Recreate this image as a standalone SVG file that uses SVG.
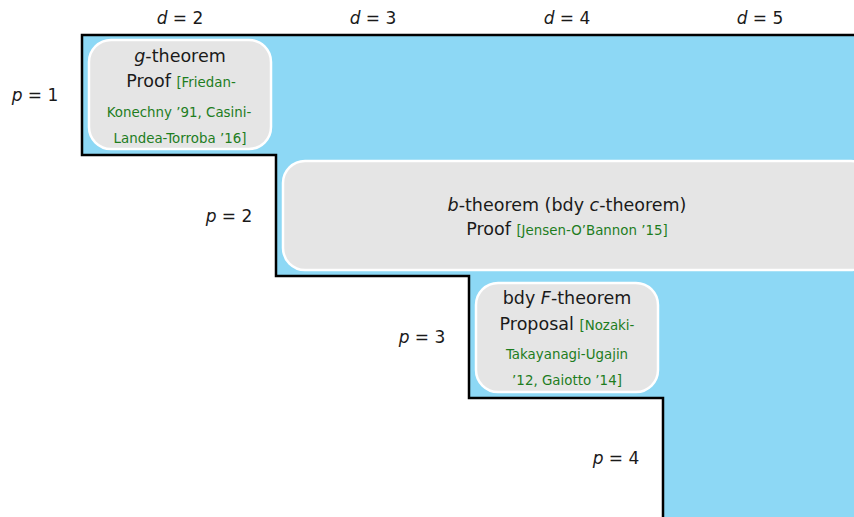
<svg xmlns="http://www.w3.org/2000/svg" width="854" height="517" viewBox="0 0 854 517">
<style>
text{font-family:"DejaVu Sans","Liberation Sans",sans-serif;fill:#1a1a1a}
.lbl{font-size:17px;text-anchor:middle}
.t{font-size:17.5px;text-anchor:middle}
.g{font-size:13.4px;fill:#1e7d1e}
.gc{font-size:13.4px;fill:#1e7d1e;text-anchor:middle}
.box{fill:#e5e5e5;stroke:#ffffff;stroke-width:2.5}
</style>
<rect x="0" y="0" width="854" height="517" fill="#ffffff"/>
<g id="region">
<path d="M82,35 H856 V519 H663 V398 H469 V276 H276 V155 H82 Z" fill="#8dd8f5"/>
<path d="M856,35 H82 V155 H276 V276 H469 V398 H663 V519" fill="none" stroke="#000" stroke-width="2.5"/>
</g>
<g id="headers">
<text class="lbl" x="180" y="24"><tspan font-style="italic">d</tspan> = 2</text>
<text class="lbl" x="373" y="24"><tspan font-style="italic">d</tspan> = 3</text>
<text class="lbl" x="567" y="24"><tspan font-style="italic">d</tspan> = 4</text>
<text class="lbl" x="760" y="24"><tspan font-style="italic">d</tspan> = 5</text>
<text class="lbl" x="35" y="101"><tspan font-style="italic">p</tspan> = 1</text>
<text class="lbl" x="229" y="222"><tspan font-style="italic">p</tspan> = 2</text>
<text class="lbl" x="422" y="343"><tspan font-style="italic">p</tspan> = 3</text>
<text class="lbl" x="616" y="464"><tspan font-style="italic">p</tspan> = 4</text>
</g>
<g id="g-theorem">
<rect class="box" x="89" y="40" width="182" height="109" rx="22"/>
<text class="t" x="180" y="62"><tspan font-style="italic">g</tspan>-theorem</text>
<text class="t" x="181" y="87">Proof <tspan class="g">[Friedan-</tspan></text>
<text class="gc" x="179" y="117">Konechny ’91, Casini-</text>
<text class="gc" x="180" y="143">Landea-Torroba ’16]</text>
</g>
<g id="b-theorem">
<rect class="box" x="283" y="161" width="590" height="109" rx="22"/>
<text class="t" x="567" y="211"><tspan font-style="italic">b</tspan>-theorem (bdy <tspan font-style="italic">c</tspan>-theorem)</text>
<text class="t" x="567" y="235">Proof <tspan class="g">[Jensen-O’Bannon ’15]</tspan></text>
</g>
<g id="F-theorem">
<rect class="box" x="476" y="283" width="182" height="109" rx="22"/>
<text class="t" x="567" y="304">bdy <tspan font-style="italic">F</tspan>-theorem</text>
<text class="t" x="567" y="330">Proposal <tspan class="g">[Nozaki-</tspan></text>
<text class="gc" x="567" y="359">Takayanagi-Ugajin</text>
<text class="gc" x="567" y="385">’12, Gaiotto ’14]</text>
</g>
<g id="connectors"></g>
</svg>
